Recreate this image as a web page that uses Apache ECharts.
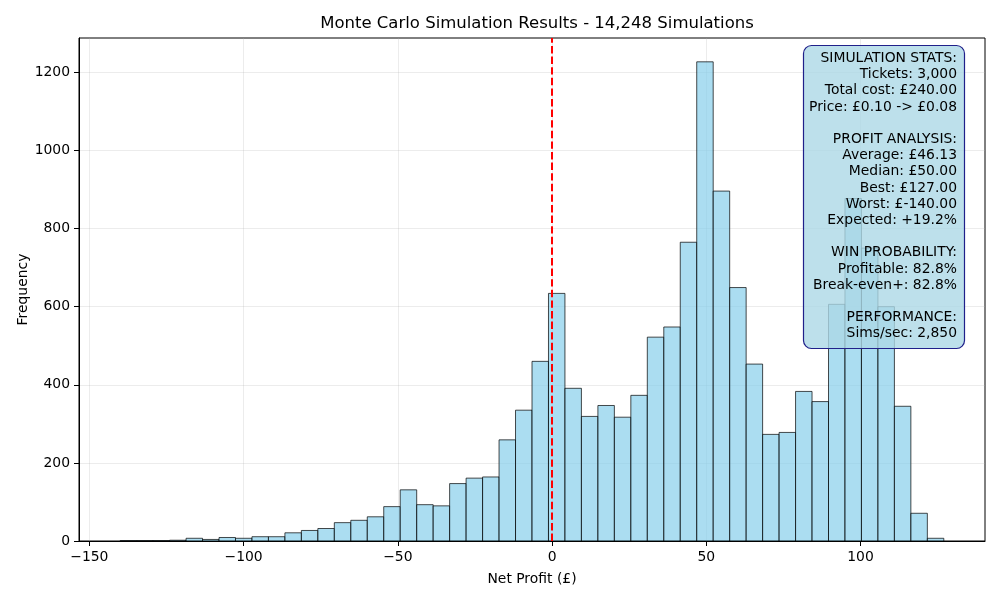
<!DOCTYPE html>
<html>
<head>
<meta charset="utf-8">
<title>Monte Carlo Simulation Results</title>
<script src="https://cdn.jsdelivr.net/npm/echarts@6/dist/echarts.min.js"></script>
<style>
  html, body { margin: 0; padding: 0; background: #fff; }
  #chart { width: 1000px; height: 600px; }
</style>
</head>
<body>
<div id="chart"></div>
<script>
// histogram of net profit, 50 bins between worst and best result
const profitMin = -140;
const profitMax = 127;
const binCount = 50;
const counts = [
  1, 1, 1, 2, 7, 4, 9, 7, 11, 11,
  21, 27, 32, 47, 53, 62, 88, 131, 93, 90,
  147, 161, 164, 259, 335, 460, 634, 391, 319, 347,
  317, 373, 522, 548, 765, 1227, 896, 649, 453, 273,
  278, 383, 357, 606, 877, 750, 600, 345, 71, 7
];
const xTicks = [-150, -100, -50, 0, 50, 100];
const yTicks = [0, 200, 400, 600, 800, 1000, 1200];
const breakEven = 0;

const statsLines = [
  "SIMULATION STATS:",
  "Tickets: 3,000",
  "Total cost: £240.00",
  "Price: £0.10 -> £0.08",
  "",
  "PROFIT ANALYSIS:",
  "Average: £46.13",
  "Median: £50.00",
  "Best: £127.00",
  "Worst: £-140.00",
  "Expected: +19.2%",
  "",
  "WIN PROBABILITY:",
  "Profitable: 82.8%",
  "Break-even+: 82.8%",
  "",
  "PERFORMANCE:",
  "Sims/sec: 2,850"
];

const binWidth = (profitMax - profitMin) / binCount;
const bins = counts.map((c, i) => [
  profitMin + i * binWidth,
  profitMin + (i + 1) * binWidth,
  c
]);

const chart = echarts.init(document.getElementById("chart"));
const font = "DejaVu Sans";

chart.setOption({
  backgroundColor: "#fff",
  animation: false,
  title: {
    text: "Monte Carlo Simulation Results - 14,248 Simulations",
    left: 532,
    top: 10,
    textAlign: "center",
    textStyle: { fontFamily: font, fontSize: 16.5, fontWeight: "normal", color: "#000" }
  },
  grid: {
    left: 79, right: 15, top: 38, bottom: 59,
    show: true, borderColor: "#000", borderWidth: 1
  },
  xAxis: {
    type: "value",
    min: -153.35,
    max: 140.35,
    name: "Net Profit (£)",
    nameLocation: "middle",
    nameGap: 31,
    nameMoveOverlap: false,
    nameTextStyle: { fontFamily: font, fontSize: 13.9, color: "#000" },
    axisLine: { onZero: false, lineStyle: { color: "#000", width: 1 } },
    axisTick: { length: 5, lineStyle: { color: "#000" }, customValues: xTicks },
    axisLabel: {
      customValues: xTicks, margin: 9,
      fontFamily: font, fontSize: 13.9, color: "#000",
      formatter: v => String(v).replace("-", "\u2212")
    },
    splitLine: { show: true, lineStyle: { color: "#b0b0b0", opacity: 0.3, width: 0.8 } }
  },
  yAxis: {
    type: "value",
    min: 0,
    max: 1288,
    name: "Frequency",
    nameLocation: "middle",
    nameGap: 49,
    nameMoveOverlap: false,
    nameTextStyle: { fontFamily: font, fontSize: 13.9, color: "#000" },
    axisLine: { show: true, onZero: false, lineStyle: { color: "#000", width: 1 } },
    axisTick: { show: true, length: 5, lineStyle: { color: "#000" }, customValues: yTicks },
    axisLabel: {
      customValues: yTicks, margin: 9,
      fontFamily: font, fontSize: 13.9, color: "#000",
      formatter: v => String(v)
    },
    splitLine: { show: true, lineStyle: { color: "#b0b0b0", opacity: 0.3, width: 0.8 } }
  },
  series: [
    {
      type: "custom",
      data: bins,
      encode: { x: [0, 1], y: 2 },
      renderItem: function (params, api) {
        const topLeft = api.coord([api.value(0), api.value(2)]);
        const bottomRight = api.coord([api.value(1), 0]);
        return {
          type: "rect",
          shape: {
            x: topLeft[0],
            y: topLeft[1],
            width: bottomRight[0] - topLeft[0],
            height: bottomRight[1] - topLeft[1]
          },
          style: {
            fill: "rgba(135,206,235,0.7)",
            stroke: "rgba(0,0,0,0.7)",
            lineWidth: 1
          }
        };
      },
      markLine: {
        silent: true,
        symbol: "none",
        label: { show: false },
        lineStyle: { color: "#ff0000", width: 2, type: [7.4, 3.2], opacity: 1 },
        data: [{ xAxis: breakEven }],
        z: 10
      }
    }
  ],
  graphic: [
    {
      type: "rect",
      shape: { x: 803.5, y: 45.5, width: 161, height: 303, r: 8 },
      style: { fill: "rgba(173,216,230,0.8)", stroke: "#20208a", lineWidth: 1.2 },
      z: 100
    },
    {
      type: "text",
      x: 957,
      y: 50.2,
      style: {
        text: statsLines.join("\n"),
        align: "right",
        verticalAlign: "top",
        fontFamily: font,
        fontSize: 13.9,
        lineHeight: 16.2,
        fill: "#000"
      },
      z: 101
    }
  ]
});
</script>
</body>
</html>
